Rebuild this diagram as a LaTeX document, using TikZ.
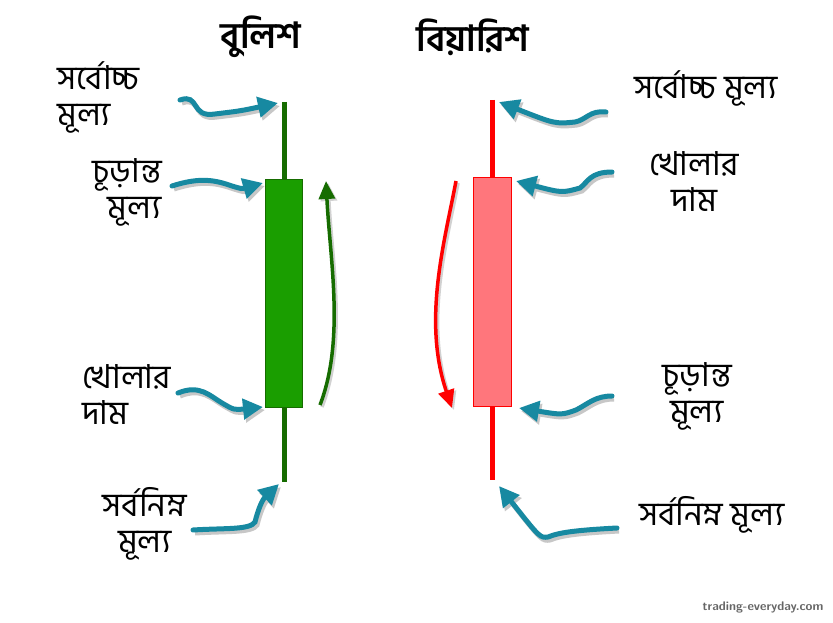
\documentclass[tikz,border=0pt]{standalone}
\usepackage{fontspec}
\newfontfamily\bnfont[Script=Bengali]{Hind Siliguri}
\usetikzlibrary{arrows.meta}
\definecolor{bullfill}{RGB}{26,158,0}
\definecolor{bullline}{RGB}{22,108,0}
\definecolor{bearfill}{RGB}{255,118,124}
\definecolor{bearline}{RGB}{255,0,0}
\definecolor{ptrcol}{RGB}{23,137,161}
\tikzset{
  lbl/.style ={font=\bnfont\fontsize{33}{36}\selectfont,inner sep=0pt},
  ttl/.style ={font=\bnfont\bfseries\fontsize{36}{40}\selectfont,inner sep=0pt},
  body/.style={draw,line width=1pt,inner sep=0pt,minimum width=37pt},
  wick/.style={line width=5pt},
  ptr/.style ={ptrcol,line width=5pt,line cap=round,-{Triangle[length=20pt,width=20pt]},
    preaction={draw=black!22,line width=5pt,-{Triangle[length=20pt,width=20pt]},
      transform canvas={shift={(2pt,-3pt)}}}},
  trend/.style={line width=3.5pt,-{Triangle[length=18pt,width=16pt]},
    preaction={draw=black!18,line width=3.5pt,-{Triangle[length=18pt,width=16pt]},
      transform canvas={shift={(2pt,-2pt)}}}},
}
\begin{document}
\begin{tikzpicture}[x=1pt,y=-1pt]
  \useasboundingbox[fill=white] (0,0) rectangle (833,623);
  % titles
  \node[ttl] (tBull) at (261,37) {বুলিশ};
  \node[ttl] (tBear) at (473,37) {বিয়ারিশ};
  % bullish candle
  \coordinate (bullHi) at (284,102);
  \coordinate (bullLo) at (284,482);
  \draw[wick,bullline] (bullHi) -- (bullLo);
  \node[body,draw=bullline,fill=bullfill,minimum height=227pt] (bullBody) at (283.5,293.5) {};
  % bearish candle
  \coordinate (bearHi) at (492,100);
  \coordinate (bearLo) at (492,480);
  \draw[wick,bearline] (bearHi) -- (bearLo);
  \node[body,draw=bearline,fill=bearfill,minimum height=228pt,minimum width=38pt] (bearBody) at (492,292) {};
  % labels, left side
  \node[lbl,anchor=west,align=left]  (hiL) at (57,97)   {সর্বোচ্চ\\মূল্য};
  \node[lbl,anchor=east,align=right] (clL) at (162,192) {চূড়ান্ত\\মূল্য};
  \node[lbl,anchor=west,align=left]  (opL) at (82,395)  {খোলার\\দাম};
  \node[lbl,align=center]            (loL) at (145,524) {সর্বনিম্ন\\মূল্য};
  % labels, right side
  \node[lbl] (hiR) at (706,88)  {সর্বোচ্চ মূল্য};
  \node[lbl,align=center] (opR) at (694,182) {খোলার\\দাম};
  \node[lbl,align=center] (clR) at (697,396) {চূড়ান্ত\\মূল্য};
  \node[lbl] (loR) at (712,515) {সর্বনিম্ন মূল্য};
  % arrow ends
  \coordinate (aHiL) at (180,100);  \coordinate (eHiL) at (278,103);
  \coordinate (aClL) at (172,186);  \coordinate (eClL) at (263,183);
  \coordinate (aOpL) at (178,393);  \coordinate (eOpL) at (263,407);
  \coordinate (aLoL) at (193,530);  \coordinate (eLoL) at (279,484);
  \coordinate (aHiR) at (606,112);  \coordinate (eHiR) at (499,102);
  \coordinate (aOpR) at (612,172);  \coordinate (eOpR) at (516,181);
  \coordinate (aClR) at (612,396);  \coordinate (eClR) at (519,408);
  \coordinate (aLoR) at (617,528);  \coordinate (eLoR) at (499,486);
  % pointers
  \draw[ptr] (aHiL) .. controls (200,93) and (190,118) .. (215,114)
                    .. controls (240,111) .. (eHiL);
  \draw[ptr] (aClL) .. controls (200,177) and (215,180) .. (232,186)
                    .. controls (242,189) .. (eClL);
  \draw[ptr] (aOpL) .. controls (200,384) and (210,396) .. (222,403)
                    .. controls (234,410) .. (eOpL);
  \draw[ptr] (aLoL) .. controls (225,528) and (250,530) .. (255,522)
                    .. controls (258,510) and (262,500) .. (eLoL);
  \draw[ptr] (aHiR) .. controls (590,110) and (586,120) .. (575,122)
                    .. controls (555,124) .. (eHiR);
  \draw[ptr] (aOpR) .. controls (590,172) and (588,182) .. (580,188)
                    .. controls (562,193) .. (eOpR);
  \draw[ptr] (aClR) .. controls (595,396) and (588,404) .. (576,410)
                    .. controls (562,415) .. (eClR);
  \draw[ptr] (aLoR) .. controls (580,530) and (560,532) .. (548,537)
                    .. controls (540,538) .. (eLoR);
  % trend arrows
  \coordinate (gS) at (320,405); \coordinate (gE) at (326,181);
  \coordinate (rS) at (456,181); \coordinate (rE) at (452,408);
  \draw[trend,bullline] (gS) .. controls (345,340) and (330,260) .. (gE);
  \draw[trend,bearline] (rS) .. controls (445,240) and (422,320) .. (rE);
  % watermark
  \node[font=\sffamily\bfseries\fontsize{12.5}{14}\selectfont,text=black!60] (wm) at (763,607) {trading-everyday.com};
\end{tikzpicture}
\end{document}
